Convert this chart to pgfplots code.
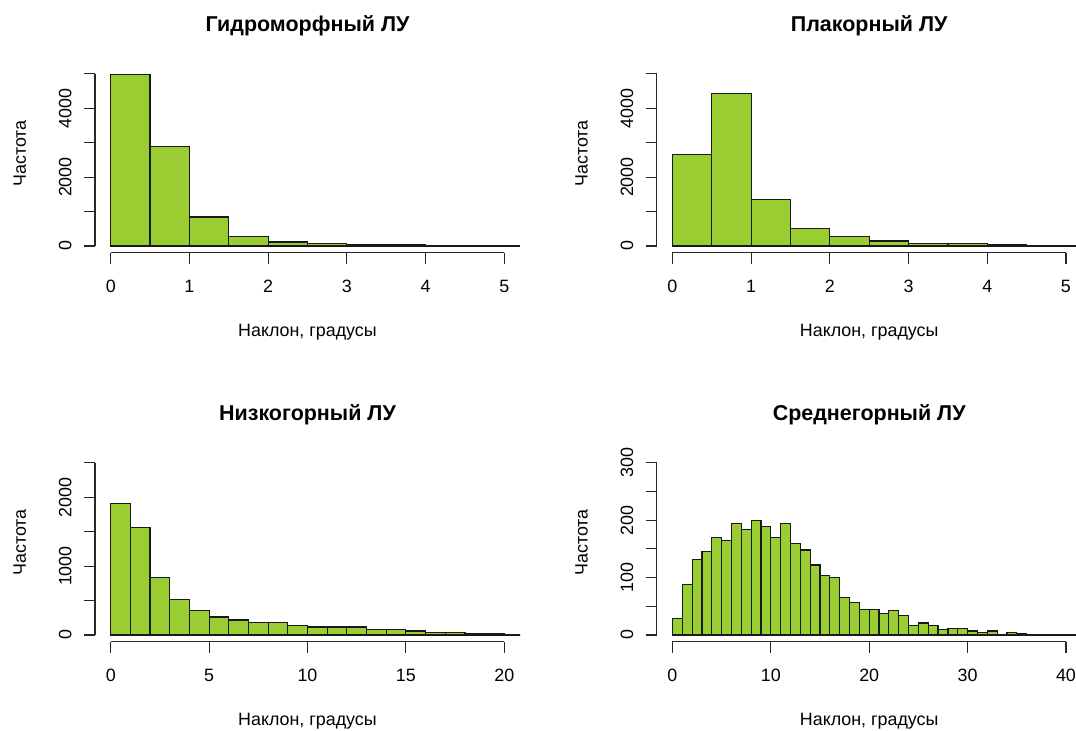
\documentclass[border=0pt]{standalone}
\usepackage{fontspec}
\setmainfont{Liberation Sans}
\usepackage{pgfplots}
\pgfplotsset{compat=1.18}
\definecolor{ygreen}{RGB}{154,205,50}
\newcommand{\basefont}{\fontsize{13.4}{16}\selectfont}
\pgfplotsset{
  rhist/.style={
    scale only axis, width=318.75pt, height=139.5pt,
    anchor=south west,
    axis x line*=bottom, axis y line*=left,
    axis line style={draw=none,-},
    tick align=outside,
    major tick length=8pt,
    tick style={black!85, line width=0.8pt},
    minor tick num=0,
    /pgf/number format/assume math mode=true,
    xticklabel style={font=\basefont, anchor=north, inner sep=0pt},
    yticklabel style={font=\basefont, rotate=90, anchor=south, inner sep=0pt},
    xticklabel shift=12.2pt, yticklabel shift=9.4pt,
    xlabel={Наклон, градусы}, ylabel={Частота},
    every axis x label/.style={at={(axis description cs:0.5,-0.4505)}, anchor=base, font=\basefont, inner sep=0pt},
    every axis y label/.style={at={(axis description cs:-0.1624,0.5355)}, rotate=90, anchor=base, font=\basefont, inner sep=0pt},
    every axis title/.style={at={(axis description cs:0.5,1.189)}, anchor=base, font=\bfseries\fontsize{16.1}{19}\selectfont, inner sep=0pt},
    extra description/.code={
      \draw[black!85, line width=0.8pt] (0.037037,0) -- (0.962963,0);
      \draw[black!85, line width=0.8pt] (0,0.037037) -- (0,0.962963);
    },
  },
  rbar/.style={ybar interval, fill=ygreen, draw=black!90, line width=0.9pt},
}
\begin{document}
\begin{tikzpicture}
\useasboundingbox (0,0) rectangle (807pt,548.25pt);
% Panel 1
\begin{axis}[rhist, at={(71.25pt,358.58pt)},
  title={Гидроморфный ЛУ},
  xmin=-0.2, xmax=5.2, ymin=-200, ymax=5200,
  xtick={0,1,2,3,4,5}, xticklabels={0,1,2,3,4,5},
  ytick={0,1000,2000,3000,4000,5000}, yticklabels={0,,2000,,4000,}]
\addplot[rbar] coordinates {(0,4970) (0.5,2888) (1,843) (1.5,271) (2,116) (2.5,78) (3,38) (3.5,30) (4,25) (4.5,22) (5,20) (5.5,18) (6,0)};
\end{axis}
% Panel 2
\begin{axis}[rhist, at={(492.53pt,358.58pt)},
  title={Плакорный ЛУ},
  xmin=-0.2, xmax=5.2, ymin=-200, ymax=5200,
  xtick={0,1,2,3,4,5}, xticklabels={0,1,2,3,4,5},
  ytick={0,1000,2000,3000,4000,5000}, yticklabels={0,,2000,,4000,}]
\addplot[rbar] coordinates {(0,2645) (0.5,4419) (1,1357) (1.5,514) (2,271) (2.5,145) (3,78) (3.5,78) (4,32) (4.5,26) (5,22) (5.5,18) (6,0)};
\end{axis}
% Panel 3
\begin{axis}[rhist, at={(71.25pt,66.83pt)},
  title={Низкогорный ЛУ},
  xmin=-0.8, xmax=20.8, ymin=-100, ymax=2600,
  xtick={0,5,10,15,20}, xticklabels={0,5,10,15,20},
  ytick={0,500,1000,1500,2000,2500}, yticklabels={0,,1000,,2000,}]
\addplot[rbar] coordinates {(0,1904) (1,1561) (2,839) (3,520) (4,357) (5,260) (6,217) (7,178) (8,178) (9,140) (10,116) (11,116) (12,116) (13,77) (14,77) (15,58) (16,39) (17,39) (18,18) (19,15) (20,12) (21,10) (22,0)};
\end{axis}
% Panel 4
\begin{axis}[rhist, at={(492.53pt,66.83pt)},
  title={Среднегорный ЛУ},
  xmin=-1.6, xmax=41.6, ymin=-12, ymax=312,
  xtick={0,10,20,30,40}, xticklabels={0,10,20,30,40},
  ytick={0,50,100,150,200,250,300}, yticklabels={0,,100,,200,,300}]
\addplot[rbar] coordinates {(0,29) (1,88) (2,132) (3,146) (4,170) (5,165) (6,194) (7,184) (8,199) (9,189) (10,170) (11,194) (12,160) (13,148) (14,122) (15,103) (16,100) (17,65) (18,57) (19,45) (20,45) (21,38) (22,43) (23,34) (24,16) (25,21) (26,17) (27,9) (28,11) (29,11) (30,7) (31,5) (32,7) (33,0.4) (34,5) (35,2) (36,0.4) (37,0.4) (38,0.4) (39,0.4) (40,0.4) (41,0.4) (42,0.4) (43,0)};
\end{axis}
\end{tikzpicture}
\end{document}
